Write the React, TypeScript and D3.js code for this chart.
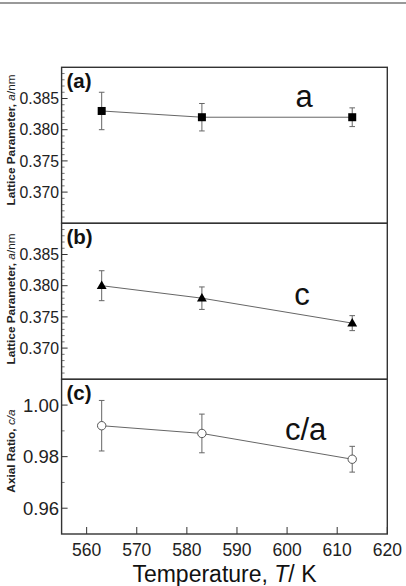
import React from "react";
import * as d3 from "d3";

const temps = [563, 583, 613];
const aValues = [0.383, 0.382, 0.382];
const aErrors = [0.003, 0.0022, 0.0015];
const cValues = [0.38, 0.378, 0.374];
const cErrors = [0.0024, 0.0018, 0.0012];
const ratioValues = [0.992, 0.989, 0.979];
const ratioErrors = [0.0098, 0.0075, 0.005];
const xTicks = [560, 570, 580, 590, 600, 610, 620];
const latticeTicks = [0.37, 0.375, 0.38, 0.385];
const latticeMinor = d3.range(366, 390).map((v) => v / 1000).filter((v) => Math.round(v * 1000) % 5 !== 0);
const ratioTicks = [0.96, 0.98, 1.0];
const ratioMinor = [0.97, 0.99];

const W = 406;
const H = 586;
const left = 61.6;
const right = 387.3;
const FONT = "'Liberation Sans', Arial, Helvetica, sans-serif";

type Panel = {
  top: number;
  bottom: number;
  domain: [number, number];
  values: number[];
  errors: number[];
  ticks: number[];
  minor: number[];
  fmt: string;
  tickFont: number;
  marker: "square" | "triangle" | "circle";
  tag: string;
  title: string;
  titleVar: string;
  titleTail: string;
  titleY: number;
  label: string;
  labelX: number;
  labelY: number;
  labelAnchor: string;
};

const panels: Panel[] = [
  {
    top: 67.3, bottom: 223.3, domain: [0.365, 0.39], values: aValues, errors: aErrors,
    ticks: latticeTicks, minor: latticeMinor, fmt: ".3f", tickFont: 15.8, marker: "square",
    tag: "(a)", title: "Lattice Parameter, ", titleVar: "a", titleTail: "/nm", titleY: 140,
    label: "a", labelX: 304, labelY: 106.5, labelAnchor: "middle",
  },
  {
    top: 223.3, bottom: 379.3, domain: [0.365, 0.39], values: cValues, errors: cErrors,
    ticks: latticeTicks, minor: latticeMinor, fmt: ".3f", tickFont: 15.8, marker: "triangle",
    tag: "(b)", title: "Lattice Parameter, ", titleVar: "a", titleTail: "/nm", titleY: 299,
    label: "c", labelX: 302, labelY: 305, labelAnchor: "middle",
  },
  {
    top: 379.3, bottom: 534, domain: [0.95, 1.01], values: ratioValues, errors: ratioErrors,
    ticks: ratioTicks, minor: ratioMinor, fmt: ".2f", tickFont: 18.5, marker: "circle",
    tag: "(c)", title: "Axial Ratio, ", titleVar: "c/a", titleTail: "", titleY: 451,
    label: "c/a", labelX: 285, labelY: 439.5, labelAnchor: "start",
  },
];

const x = d3.scaleLinear().domain([555, 620]).range([left, right]);

function Marker({ kind, cx, cy }: { kind: string; cx: number; cy: number }) {
  if (kind === "square") {
    return <rect x={cx - 4} y={cy - 4} width={8} height={8} fill="#000" />;
  }
  if (kind === "triangle") {
    const tri = d3.symbol().type(d3.symbolTriangle).size(42)();
    return <path d={tri || ""} transform={`translate(${cx},${cy + 0.5})`} fill="#000" />;
  }
  return <circle cx={cx} cy={cy} r={4.2} fill="#fff" stroke="#555" strokeWidth={1} />;
}

function PanelView({ p }: { p: Panel }) {
  const y = d3.scaleLinear().domain(p.domain).range([p.bottom, p.top]);
  const line = d3.line<number>().x((_, i) => x(temps[i])).y((v) => y(v));
  const fmt = d3.format(p.fmt);
  return (
    <g>
      <path d={line(p.values) || ""} fill="none" stroke="#666" strokeWidth={1} />
      {p.values.map((v, i) => {
        const cx = x(temps[i]);
        const y1 = y(v + p.errors[i]);
        const y2 = y(v - p.errors[i]);
        return (
          <g key={i} stroke="#666" strokeWidth={1}>
            <line x1={cx} x2={cx} y1={y1} y2={y2} />
            <line x1={cx - 2.8} x2={cx + 2.8} y1={y1} y2={y1} />
            <line x1={cx - 2.8} x2={cx + 2.8} y1={y2} y2={y2} />
          </g>
        );
      })}
      {p.values.map((v, i) => (
        <Marker key={i} kind={p.marker} cx={x(temps[i])} cy={y(v)} />
      ))}
      {p.ticks.map((t) => (
        <g key={t}>
          <line x1={left} x2={left + 6} y1={y(t)} y2={y(t)} stroke="#333" strokeWidth={1} />
          <text x={59} y={y(t)} dy="0.36em" textAnchor="end" fontSize={p.tickFont} fontFamily={FONT} fill="#222">
            {fmt(t)}
          </text>
        </g>
      ))}
      {p.minor.map((t) => (
        <line key={t} x1={left} x2={left + 3} y1={y(t)} y2={y(t)} stroke="#555" strokeWidth={0.8} />
      ))}
      <rect x={left} y={p.top} width={right - left} height={p.bottom - p.top} fill="none" stroke="#333" strokeWidth={1.4} />
      <text x={66.5} y={p.top + 21} fontSize={20.5} fontWeight="bold" fontFamily={FONT} fill="#111">
        {p.tag}
      </text>
      <text x={p.labelX} y={p.labelY} textAnchor={p.labelAnchor} fontSize={31} fontFamily={FONT} fill="#111">
        {p.label}
      </text>
      <text
        transform={`translate(15,${p.titleY}) rotate(-90)`}
        textAnchor="middle"
        fontSize={11.8}
        fontWeight="bold"
        fontFamily={FONT}
        fill="#222"
      >
        {p.title}
        <tspan fontStyle="italic" fontWeight="normal">{p.titleVar}</tspan>
        <tspan fontWeight="normal">{p.titleTail}</tspan>
      </text>
    </g>
  );
}

export default function App() {
  const bottom = panels[2].bottom;
  return (
    <svg width={W} height={H} style={{ position: "absolute", left: 0, top: 0, background: "#fff" }}>
      <rect x={0} y={0} width={W} height={H} fill="#fff" />
      <line x1={0} x2={W} y1={3} y2={3} stroke="#999" strokeWidth={2} />
      {panels.map((p, i) => (
        <PanelView key={i} p={p} />
      ))}
      {xTicks.map((t) => (
        <g key={t}>
          <line x1={x(t)} x2={x(t)} y1={bottom} y2={bottom - 7} stroke="#333" strokeWidth={1} />
          <text x={x(t)} y={556} textAnchor="middle" fontSize={17.5} fontFamily={FONT} fill="#222">
            {t}
          </text>
        </g>
      ))}
      <text x={(left + right) / 2} y={582} textAnchor="middle" fontSize={23} fontFamily={FONT} fill="#111">
        Temperature, <tspan fontStyle="italic">T</tspan>/ K
      </text>
    </svg>
  );
}
